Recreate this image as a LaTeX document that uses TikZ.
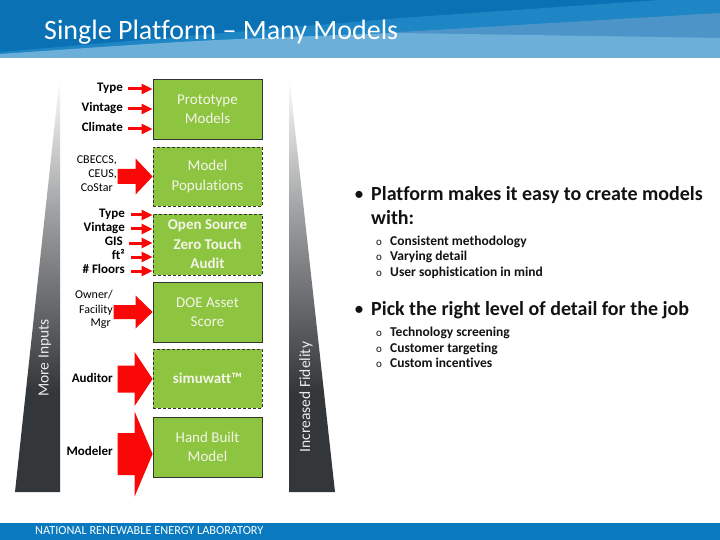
\documentclass[tikz,border=0pt]{standalone}
\usepackage{fontspec}
\setmainfont{Carlito}[Ligatures=NoCommon]
\usetikzlibrary{arrows.meta,calc}
\definecolor{boxgreen}{RGB}{141,197,64}
\definecolor{arrred}{RGB}{250,8,8}
\definecolor{hdark}{RGB}{10,113,180}
\definecolor{hband2}{RGB}{30,134,197}
\definecolor{hband3}{RGB}{77,149,201}
\definecolor{hlight}{RGB}{108,175,217}
\definecolor{footblue}{RGB}{10,122,192}
\definecolor{wdark}{RGB}{52,55,58}
\definecolor{wmid}{RGB}{150,152,154}
\definecolor{boxtext}{RGB}{244,244,232}
\definecolor{wedgetext}{RGB}{235,235,235}
\pgfdeclareverticalshading{wedgeshade}{100bp}{color(0bp)=(wdark); color(25bp)=(wdark); color(37bp)=(wdark); color(57bp)=(wmid); color(75bp)=(white); color(100bp)=(white)}
\tikzset{
  mbox/.style={draw=black!80, line width=0.8pt, fill=boxgreen, minimum width=109pt, minimum height=60pt, inner sep=0pt, text=boxtext, font=\fontsize{15}{19.5}\selectfont, align=center},
  dbox/.style={mbox, dash pattern=on 3pt off 2pt},
  inlbl/.style={font=\bfseries\fontsize{13}{15}\selectfont, anchor=mid east, inner sep=0pt},
  srclbl/.style={font=\fontsize{12}{14}\selectfont, anchor=mid east, inner sep=0pt},
  smallarr/.style={draw=arrred, line width=3pt, -{Triangle[length=11pt,width=10pt]}},
  bigarr/.style={fill=arrred},
  sidelbl/.style={rotate=90, text=wedgetext, font=\fontsize{15.5}{18}\selectfont, inner sep=0pt},
  mainbul/.style={font=\bfseries\fontsize{20}{22}\selectfont, anchor=mid west, inner sep=0pt, text=black!93},
  subbul/.style={font=\bfseries\fontsize{13.5}{15}\selectfont, anchor=mid west, inner sep=0pt, text=black!93},
  dotbul/.style={font=\fontsize{20}{22}\selectfont, inner sep=0pt, text=black!93},
  obul/.style={font=\fontsize{11}{13}\selectfont, inner sep=0pt, text=black!93},
}
% block arrow: #1 tip, #2 head length, #3 head half height, #4 shaft half height, #5 shaft length
\newcommand\blockarr[5]{\fill[bigarr] (#1) -- ++(-#2,-#3) -- ++(0,#3-#4) -- ++(-#5,0) -- ++(0,2*#4) -- ++(#5,0) -- ++(0,#3-#4) -- cycle;}
\begin{document}
\begin{tikzpicture}[x=1pt,y=-1pt]
\useasboundingbox (0,0) rectangle (720,540);
\fill[white] (0,0) rectangle (720,540);
% header
\fill[hdark] (0,0) rectangle (720,58);
\fill[hband2] (0,52) -- (400,18) -- (660,0) -- (720,0) -- (720,58) -- (0,58) -- cycle;
\fill[hband3] (240,41.5) -- (400,32) -- (720,13) -- (720,58) -- (240,58) -- cycle;
\fill[hlight] (0,54) .. controls (200,40) .. (400,33) -- (720,38) -- (720,58) -- (0,58) -- cycle;
\node[anchor=base west, inner sep=0pt, text=white, font=\fontsize{28}{32}\selectfont] (title) at (44,40) {Single Platform – Many Models};
% footer
\fill[footblue] (0,523) rectangle (720,540);
\node[anchor=mid west, inner sep=0pt, text=white, font=\fontsize{12.3}{14}\selectfont] (foot) at (35,532) {NATIONAL RENEWABLE ENERGY LABORATORY};
% wedges
\shade[shading=wedgeshade] (60,75) -- (60,492) -- (15,492) -- cycle;
\shade[shading=wedgeshade] (289,75) -- (289,492) -- (335,492) -- cycle;
\node[sidelbl] (more) at (45,358) {More Inputs};
\node[sidelbl] (fid) at (306,397) {Increased Fidelity};
% boxes
\node[mbox] (proto) at (207.5,109) {Prototype\\Models};
\node[dbox, minimum height=59pt] (mpop) at (207.5,176.5) {Model\\Populations};
\node[dbox, minimum height=61pt] (zta) at (207.5,244.5) {\bfseries Open Source\\\bfseries Zero Touch\\\bfseries Audit};
\node[mbox] (doe) at (207.5,312) {DOE Asset\\Score};
\node[dbox, minimum height=59pt] (simu) at (207.5,378.5) {\bfseries simuwatt™};
\node[mbox] (hand) at (207.5,447) {Hand Built\\Model};
% group 1 inputs
\node[inlbl] (t1) at (123,89) {Type};
\node[inlbl] (v1) at (123,109) {Vintage};
\node[inlbl] (c1) at (123,129) {Climate};
\foreach \n in {t1,v1,c1} \draw[smallarr] ([xshift=5pt]\n.mid east) -- (\n.mid east -| proto.west);
% group 2 sources
\node[srclbl] (cb) at (117,161) {CBECCS,};
\node[srclbl] (ce) at (117,175) {CEUS,};
\node[srclbl] (co) at (113,189) {CoStar};
\blockarr{mpop.west}{17}{18}{7.5}{18}
% group 3 inputs
\node[inlbl] (t2) at (125,215) {Type};
\node[inlbl] (v2) at (125,229) {Vintage};
\node[inlbl] (g2) at (123,243) {GIS};
\node[inlbl] (f2) at (125,257) {ft²};
\node[inlbl] (n2) at (125,271) {\# Floors};
\foreach \n in {t2,v2,g2,f2,n2} \draw[smallarr] ([xshift=6pt]\n.mid east) -- (\n.mid east -| zta.west);
% owner
\node[srclbl] (ow) at (113,296) {Owner/};
\node[srclbl] (fa) at (113,311) {Facility};
\node[srclbl] (mg) at (111,324) {Mgr};
\blockarr{doe.west}{17}{16.5}{7}{22}
% auditor
\node[inlbl] (aud) at (113,380) {Auditor};
\blockarr{$(simu.west)+(0,0.5)$}{18}{27}{13.5}{17}
% modeler
\node[inlbl] (mod) at (113,453) {Modeler};
\blockarr{$(hand.west)+(0,7)$}{18}{42.5}{21}{17}
% right text
\node[dotbul] (d1) at (359,196) {•};
\node[mainbul] (p1) at (371,198) {Platform makes it easy to create models};
\node[mainbul] (p1b) at (371,222) {with:};
\node[obul] (o1) at (379,243) {o};
\node[subbul] (s1) at (390,243) {Consistent methodology};
\node[obul] (o2) at (379,258) {o};
\node[subbul] (s2) at (390,258) {Varying detail};
\node[obul] (o3) at (379,274) {o};
\node[subbul] (s3) at (390,274) {User sophistication in mind};
\node[dotbul] (d2) at (359,311) {•};
\node[mainbul] (p2) at (371,313) {Pick the right level of detail for the job};
\node[obul] (o4) at (379,334) {o};
\node[subbul] (s4) at (390,334) {Technology screening};
\node[obul] (o5) at (379,350) {o};
\node[subbul] (s5) at (390,350) {Customer targeting};
\node[obul] (o6) at (379,365) {o};
\node[subbul] (s6) at (390,365) {Custom incentives};
\end{tikzpicture}
\end{document}
